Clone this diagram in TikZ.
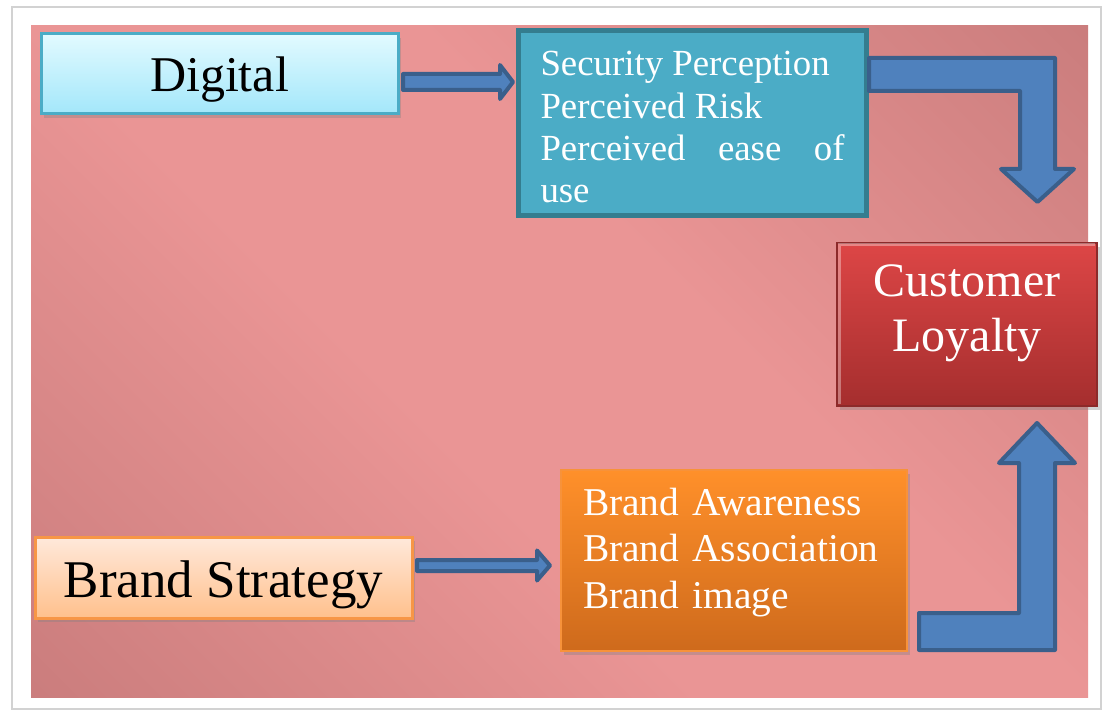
\documentclass[tikz,border=0pt]{standalone}
\usepackage{fontspec}
\setmainfont{Liberation Serif}
\usetikzlibrary{calc,shadows}

\definecolor{bgmid}{HTML}{EA9595}
\definecolor{bgdark}{HTML}{C47878}
\definecolor{digtop}{HTML}{E2FAFF}
\definecolor{digbot}{HTML}{A3E7FA}
\definecolor{digedge}{HTML}{4BACC6}
\definecolor{secfill}{HTML}{4BACC6}
\definecolor{secedge}{HTML}{347D8F}
\definecolor{custtop}{HTML}{DD4646}
\definecolor{custbot}{HTML}{A52E2E}
\definecolor{custedge}{HTML}{8C2A2A}
\definecolor{strattop}{HTML}{FFE9DB}
\definecolor{stratbot}{HTML}{FFC08C}
\definecolor{stratedge}{HTML}{F79646}
\definecolor{brandtop}{HTML}{FF902A}
\definecolor{brandbot}{HTML}{CE6A1C}
\definecolor{brandedge}{HTML}{F7923A}
\definecolor{arrowfill}{HTML}{4F81BD}
\definecolor{arrowedge}{HTML}{3A5F8B}

\pgfdeclareverticalshading{bgshade}{100bp}{color(0bp)=(bgdark); color(9bp)=(bgdark);
  color(42bp)=(bgmid); color(58bp)=(bgmid); color(91bp)=(bgdark); color(100bp)=(bgdark)}

\begin{document}
\begin{tikzpicture}[x=0.5pt,y=-0.5pt,
  box/.style={rectangle, inner sep=0pt},
  shadowbox/.style={box, drop shadow={shadow xshift=1.5pt, shadow yshift=-2pt, opacity=0.35}},
  blockarrow/.style={draw=arrowedge, fill=arrowfill, line width=2pt, line join=round}]
  \useasboundingbox (0,0) rectangle (1103,711);
  \draw[gray!35, fill=white, line width=1pt] (12,7) rectangle (1101,709);
  \shade[shading=bgshade, shading angle=-45] (31,26) rectangle (1088,697);

  \node[shadowbox, draw=digedge, line width=1.5pt, top color=digtop, bottom color=digbot,
    minimum width=178.5pt, minimum height=40pt, font=\fontsize{25pt}{30pt}\selectfont,
    text height=23.5pt, text depth=5.5pt] (dig) at (219.5,74) {Digital};
  \node[box, draw=secedge, line width=2.5pt, fill=secfill, text=white, text width=152pt,
    align=justify, inner xsep=11pt, minimum height=92.5pt,
    font=\fontsize{18.4pt}{21.2pt}\selectfont] (sec) at (692.5,123)
    {\rule{0pt}{16.5pt}Security Perception\\ Perceived Risk\\ Perceived ease of\linebreak use};
  \node[shadowbox, draw=custedge, line width=1pt, top color=custtop, bottom color=custbot,
    text=white, align=center, minimum width=130pt, minimum height=81.5pt,
    font=\fontsize{24pt}{27.5pt}\selectfont] (cust) at (967,324.5)
    {Customer\\ Loyalty\rule[-16.5pt]{0pt}{16.5pt}};
  \draw[white, opacity=0.35, line width=1.5pt] ($(cust.south west)+(3,-3)$) -- ($(cust.north west)+(3,3)$) -- ($(cust.north east)+(-3,3)$);
  \node[shadowbox, draw=stratedge, line width=1.5pt, top color=strattop, bottom color=stratbot,
    minimum width=188.5pt, minimum height=40.5pt, font=\fontsize{26.5pt}{32pt}\selectfont,
    text height=25.25pt, text depth=5.75pt] (strat) at (223.5,577.5) {Brand Strategy};
  \node[shadowbox, draw=brandedge, line width=1pt, top color=brandtop, bottom color=brandbot,
    text=white, text width=151pt, align=left, inner xsep=11pt, minimum height=90.5pt,
    font=\fontsize{19.7pt}{23.25pt}\selectfont] (assoc) at (734,560.5)
    {Brand Awareness\\ Brand Association\\ Brand image\rule[-12.5pt]{0pt}{12.5pt}};

  \coordinate (a1) at ($(dig.east)+(3.5,8)$);
  \coordinate (a1tip) at ($(sec.west |- a1)+(-3,0)$);
  \coordinate (a2) at ($(strat.east)+(3.5,-12)$);
  \coordinate (a2tip) at ($(assoc.west |- a2)+(-10,0)$);
  \coordinate (tipA) at ($(cust.north)+(70.5,-40)$);
  \coordinate (tipB) at ($(cust.south)+(70,16)$);

  \draw[blockarrow] ($(a1)+(0,-8)$) -- ($(a1tip)+(-13,-8)$) -- ($(a1tip)+(-13,-17)$) -- (a1tip)
    -- ($(a1tip)+(-13,17)$) -- ($(a1tip)+(-13,8)$) -- ($(a1)+(0,8)$) -- cycle;
  \draw[blockarrow] ($(a2)+(0,-5.5)$) -- ($(a2tip)+(-13,-5.5)$) -- ($(a2tip)+(-13,-15)$) -- (a2tip)
    -- ($(a2tip)+(-13,15)$) -- ($(a2tip)+(-13,5.5)$) -- ($(a2)+(0,5.5)$) -- cycle;
  \draw[blockarrow] ($(sec.east)+(0,-65)$) -- ($(tipA)+(17.5,-144)$) -- ($(tipA)+(17.5,-33)$)
    -- ($(tipA)+(36.5,-33)$) -- (tipA) -- ($(tipA)+(-36.5,-33)$) -- ($(tipA)+(-17.5,-33)$)
    -- ($(tipA)+(-17.5,-111)$) -- ($(sec.east)+(0,-32)$) -- cycle;
  \draw[blockarrow] ($(assoc.east)+(11,52.5)$) -- ($(tipB)+(-18,190)$) -- ($(tipB)+(-18,40)$)
    -- ($(tipB)+(-38,40)$) -- (tipB) -- ($(tipB)+(38,40)$) -- ($(tipB)+(18,40)$)
    -- ($(tipB)+(18,227)$) -- ($(assoc.east)+(11,89.5)$) -- cycle;
\end{tikzpicture}
\end{document}
